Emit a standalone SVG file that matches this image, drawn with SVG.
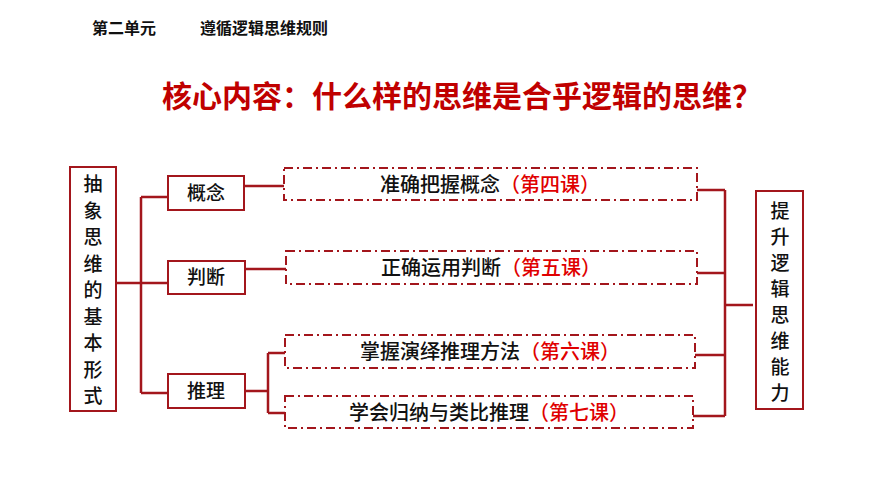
<svg xmlns="http://www.w3.org/2000/svg" width="870" height="489" viewBox="0 0 870 489">
<style>
.b{fill:#fff;stroke:#a3161c;stroke-width:2}
.d{fill:none;stroke:#a3161c;stroke-width:2;stroke-dasharray:9 4 2 4}
.l{fill:none;stroke:#a3161c;stroke-width:2.5}
text{font-family:"Noto Sans CJK SC","Liberation Sans",sans-serif;fill:#111}
.t{font-size:19px;text-anchor:middle;font-weight:500}
.w{font-size:20px}
.r{fill:#e00000}
</style>
<rect width="870" height="489" fill="#fff"/>
<text x="92" y="34" font-size="16" font-weight="bold">第二单元<tspan x="200">遵循逻辑思维规则</tspan></text>
<text x="462" y="107" font-size="30" font-weight="bold" text-anchor="middle" style="fill:#c00000">核心内容：什么样的思维是合乎逻辑的思维？</text>
<g id="connectors">
<path class="l" d="M116 283H168M141 197V393M141 197H168M141 393H168M244 186H284M245 269H286M245 391H268M268 353V413M268 353H285M268 413H285"/>
<path class="l" d="M697 190H725M697 273H725M695 355H725M693 416H725M725 190V416M725 305H753"/>
</g>
<g id="left"><rect class="b" x="70" y="167" width="46" height="244"/>
<text class="t" x="93" y="191" font-size="21"><tspan x="93" dy="0">抽</tspan><tspan x="93" dy="26.5">象</tspan><tspan x="93" dy="26.5">思</tspan><tspan x="93" dy="26.5">维</tspan><tspan x="93" dy="26.5">的</tspan><tspan x="93" dy="26.5">基</tspan><tspan x="93" dy="26.5">本</tspan><tspan x="93" dy="26.5">形</tspan><tspan x="93" dy="26.5">式</tspan></text></g>
<g id="n1"><rect class="b" x="168" y="176" width="76" height="34"/><text class="t" x="206" y="200">概念</text></g>
<g id="n2"><rect class="b" x="168" y="261" width="77" height="33"/><text class="t" x="206" y="284">判断</text></g>
<g id="n3"><rect class="b" x="168" y="374" width="77" height="34"/><text class="t" x="206" y="398">推理</text></g>
<g id="d1"><rect class="d" x="284" y="168" width="413" height="32"/><text class="t w" x="490" y="192">准确把握概念<tspan class="r">（第四课）</tspan></text></g>
<g id="d2"><rect class="d" x="286" y="251" width="411" height="33"/><text class="t w" x="491" y="275">正确运用判断<tspan class="r">（第五课）</tspan></text></g>
<g id="d3"><rect class="d" x="285" y="335" width="410" height="33"/><text class="t w" x="490" y="359">掌握演绎推理方法<tspan class="r">（第六课）</tspan></text></g>
<g id="d4"><rect class="d" x="285" y="396" width="408" height="32"/><text class="t w" x="489" y="420">学会归纳与类比推理<tspan class="r">（第七课）</tspan></text></g>
<g id="right"><rect class="b" x="756" y="191" width="47" height="218"/>
<text class="t" x="780" y="218" font-size="21"><tspan x="780" dy="0">提</tspan><tspan x="780" dy="26">升</tspan><tspan x="780" dy="26">逻</tspan><tspan x="780" dy="26">辑</tspan><tspan x="780" dy="26">思</tspan><tspan x="780" dy="26">维</tspan><tspan x="780" dy="26">能</tspan><tspan x="780" dy="26">力</tspan></text></g>
</svg>
